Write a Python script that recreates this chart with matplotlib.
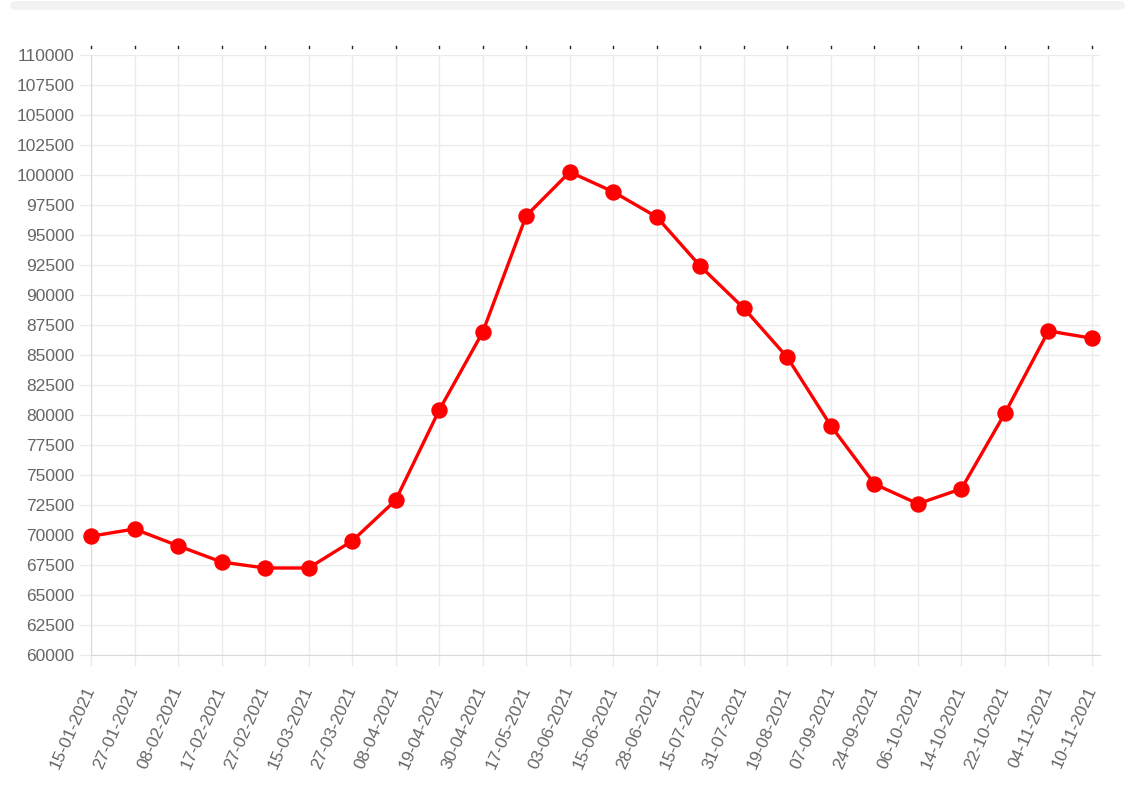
import matplotlib
matplotlib.use("Agg")
import matplotlib.pyplot as plt
from matplotlib.patches import FancyBboxPatch

dates = ["15-01-2021", "27-01-2021", "08-02-2021", "17-02-2021", "27-02-2021",
         "15-03-2021", "27-03-2021", "08-04-2021", "19-04-2021", "30-04-2021",
         "17-05-2021", "03-06-2021", "15-06-2021", "28-06-2021", "15-07-2021",
         "31-07-2021", "19-08-2021", "07-09-2021", "24-09-2021", "06-10-2021",
         "14-10-2021", "22-10-2021", "04-11-2021", "10-11-2021"]
values = [69900, 70500, 69100, 67750, 67250, 67250, 69500, 72900, 80400, 86900,
          96600, 100250, 98600, 96500, 92400, 88900, 84800, 79100, 74250, 72600,
          73850, 80150, 87000, 86400]
y_ticks = list(range(60000, 110001, 2500))

W, H = 1136, 787
plt.rcParams['font.family'] = ['Liberation Sans', 'DejaVu Sans']
fig = plt.figure(figsize=(W / 100, H / 100), dpi=100)

# top light bar
bar = FancyBboxPatch((10 / W, 1 - 10 / H), 1115 / W, 9 / H,
                     boxstyle="round,pad=0,rounding_size=0.006",
                     transform=fig.transFigure, facecolor="#f2f2f2",
                     edgecolor="none")
fig.patches.append(bar)

left, right = 91, 1100
top, bottom = 55, 655
ax = fig.add_axes([left / W, 1 - bottom / H, (right - left) / W, (bottom - top) / H])

x = list(range(len(dates)))
ax.plot(x, values, color="#ff0000", linewidth=2.4, marker="o", markersize=10.8,
        markerfacecolor="#ff0000", markeredgecolor="#ff0000", zorder=3,
        clip_on=False)

step = (1092 - 91) / 23
ax.set_xlim(0, 23 + (right - 1092) / step)
ax.set_ylim(60000, 110000)
ax.set_yticks(y_ticks)
ax.set_yticklabels([str(v) for v in y_ticks])
ax.set_xticks(x)
ax.set_xticklabels(dates, rotation=66, ha="right", va="center",
                   rotation_mode="anchor")

ax.grid(True, color="#ebebeb", linewidth=1)
ax.set_axisbelow(True)
for s in ["top", "right"]:
    ax.spines[s].set_visible(False)
ax.spines["left"].set_color("#d9d9d9")
ax.spines["bottom"].set_color("#d9d9d9")
ax.tick_params(axis="both", colors="#ebebeb", labelcolor="#666666",
               labelsize=12.5, length=8, width=1)
ax.tick_params(axis="x", pad=15)
ax.tick_params(axis="y", pad=4)

# small dark tick marks at the top
fig.canvas.draw()
top_marks_y = 1 - 47 / H
for xi in x:
    xf = ax.transData.transform((xi, 0))[0] / W
    fig.lines.append(plt.Line2D([xf, xf], [top_marks_y - 1 / H, top_marks_y + 1 / H],
                                transform=fig.transFigure, color="#222222", linewidth=1))

fig.savefig("out.png", dpi=100, facecolor="white")
